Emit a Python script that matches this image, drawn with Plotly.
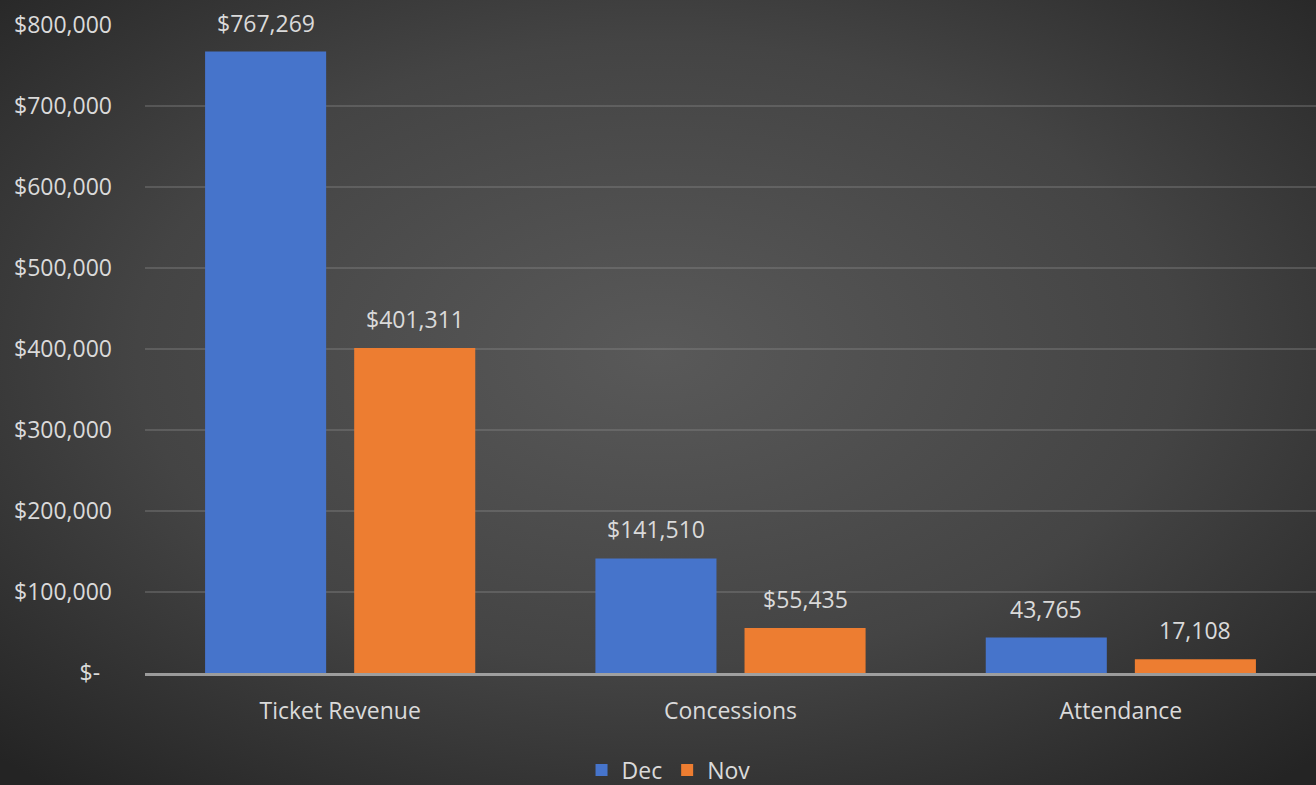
import base64
import plotly.graph_objects as go

# Monthly comparison data
categories = ["Ticket Revenue", "Concessions", "Attendance"]
dec_values = [767269, 141510, 43765]
nov_values = [401311, 55435, 17108]
is_currency = [True, True, False]

y_tick_vals = [0, 100000, 200000, 300000, 400000, 500000, 600000, 700000, 800000]
y_tick_text = ["$-\u00a0\u00a0", "$100,000", "$200,000", "$300,000", "$400,000",
               "$500,000", "$600,000", "$700,000", "$800,000"]

W, H = 1316, 785
M_L, M_R, M_T, M_B = 145, 0, 25, 112
plot_w = W - M_L - M_R
plot_h = H - M_T - M_B

TEXT = "#dadada"
FONT = "Open Sans"
BLUE = "#4674cb"
ORANGE = "#ed7d31"

BARGAP = 0.236
GROUPGAP = 0.188

# radial background glow
svg = f"""<svg xmlns='http://www.w3.org/2000/svg' width='{W}' height='{H}' viewBox='0 0 {W} {H}' preserveAspectRatio='none'>
<defs><radialGradient id='g' cx='50%' cy='45%' r='72%'>
<stop offset='0' stop-color='#595959'/><stop offset='0.55' stop-color='#444444'/><stop offset='1' stop-color='#242424'/>
</radialGradient></defs><rect width='{W}' height='{H}' fill='url(#g)'/></svg>"""
bg_uri = "data:image/svg+xml;base64," + base64.b64encode(svg.encode()).decode()


def fmt(v, cur):
    s = f"{v:,}"
    return "$" + s if cur else s


fig = go.Figure()
fig.add_trace(go.Bar(name="Dec", x=categories, y=dec_values,
                     marker=dict(color=BLUE, line=dict(width=0))))
fig.add_trace(go.Bar(name="Nov", x=categories, y=nov_values,
                     marker=dict(color=ORANGE, line=dict(width=0))))

# value labels above each bar
slot = (1 - BARGAP) / 2
for i, (d, n, cur) in enumerate(zip(dec_values, nov_values, is_currency)):
    for off, v in ((-slot / 2, d), (slot / 2, n)):
        fig.add_annotation(x=i + off, y=v, xref="x", yref="y", text=fmt(v, cur),
                           showarrow=False, yanchor="middle", yshift=29,
                           font=dict(family=FONT, size=23, color=TEXT))

fig.add_layout_image(dict(source=bg_uri, xref="paper", yref="paper",
                          x=-M_L / plot_w, y=1 + M_T / plot_h,
                          sizex=W / plot_w, sizey=H / plot_h,
                          xanchor="left", yanchor="top", sizing="stretch",
                          layer="below"))

fig.update_layout(
    width=W, height=H,
    margin=dict(l=M_L, r=M_R, t=M_T, b=M_B, pad=0),
    paper_bgcolor="#333333",
    plot_bgcolor="rgba(0,0,0,0)",
    barmode="group", bargap=BARGAP, bargroupgap=GROUPGAP,
    font=dict(family=FONT, size=23, color=TEXT),
    showlegend=True,
    legend=dict(orientation="h", xref="container", yref="container",
                x=0.508, y=0.019, xanchor="center", yanchor="middle",
                font=dict(family=FONT, size=23, color=TEXT),
                itemwidth=30, tracegroupgap=0, bgcolor="rgba(0,0,0,0)"),
)

fig.update_xaxes(type="category", showgrid=False, zeroline=False,
                 showline=True, linecolor="rgba(210,210,210,0.65)", linewidth=3,
                 layer="above traces", ticks="", ticklabelstandoff=15,
                 tickfont=dict(family=FONT, size=23, color=TEXT))
fig.update_yaxes(range=[0, 800000], tickvals=y_tick_vals, ticktext=y_tick_text,
                 showgrid=True, gridcolor="rgba(140,140,140,0.35)", gridwidth=1.5,
                 zeroline=False, showline=False, ticks="", ticklabelstandoff=32,
                 tickfont=dict(family=FONT, size=23, color=TEXT))

fig.write_html("out.html")
